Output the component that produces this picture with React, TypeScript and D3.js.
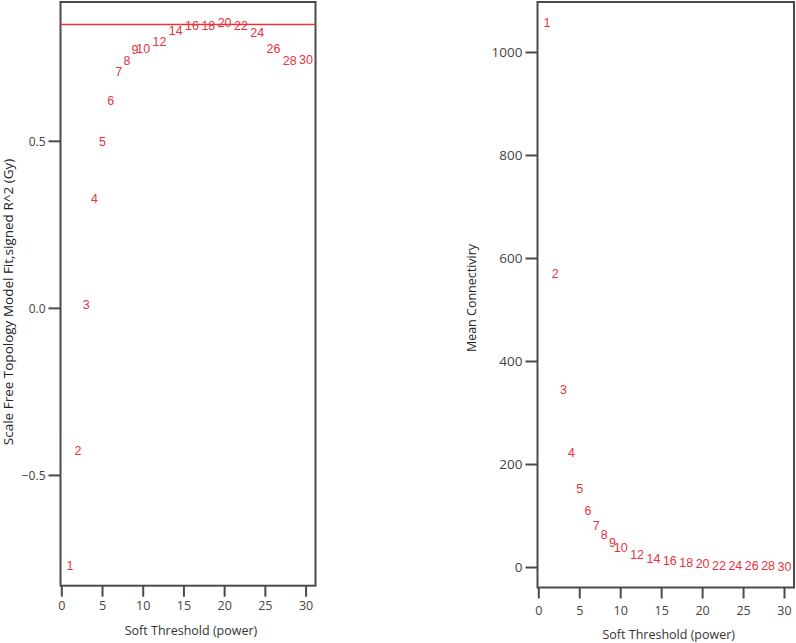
import React, { useRef, useEffect } from 'react';
import * as d3 from 'd3';

// soft threshold powers tested
const powers = [1, 2, 3, 4, 5, 6, 7, 8, 9, 10, 12, 14, 16, 18, 20, 22, 24, 26, 28, 30];
// signed R^2 of scale free fit
const fitValues = [-0.769, -0.426, 0.012, 0.328, 0.499, 0.622, 0.708, 0.741, 0.775, 0.778,
    0.797, 0.830, 0.847, 0.847, 0.854, 0.846, 0.824, 0.778, 0.741, 0.746];
// mean connectivity
const meanK = [1057, 571, 346, 224, 154, 111, 82, 63, 48.5, 39,
    25, 18, 13, 9.7, 7.2, 4.6, 3.9, 3.5, 3.3, 2.7];
const cutHeight = 0.85;

const xTicks = [0, 5, 10, 15, 20, 25, 30];
const fitTicks = [-0.5, 0.0, 0.5];
const kTicks = [0, 200, 400, 600, 800, 1000];

const RED = '#e8323c';
const AXIS = '#4a4a4a';
const LABEL_FONT = '"Open Sans", sans-serif';
const POINT_FONT = '"Liberation Sans", Arial, sans-serif';

function drawPanel(svg, opts) {
    const { xRange, yRange, yDomain, yValues, yTicks, yFormat, yTickSize, yTitle, yTitleX, yTitleY, yTitleSize,
        tickLabelY, xTitleY, hLine } = opts;
    const x = d3.scaleLinear().domain([-0.16, 31.16]).range(xRange);
    const y = d3.scaleLinear().domain(yDomain).range(yRange);

    const g = svg.append('g');

    // box
    g.append('rect')
        .attr('x', xRange[0]).attr('y', yRange[1])
        .attr('width', xRange[1] - xRange[0]).attr('height', yRange[0] - yRange[1])
        .attr('fill', 'none').attr('stroke', AXIS).attr('stroke-width', 2);

    // x axis ticks
    xTicks.forEach(t => {
        g.append('line')
            .attr('x1', x(t)).attr('x2', x(t))
            .attr('y1', yRange[0]).attr('y2', yRange[0] + 11)
            .attr('stroke', AXIS).attr('stroke-width', 2);
        g.append('text')
            .attr('x', x(t)).attr('y', tickLabelY)
            .attr('text-anchor', 'middle').attr('dy', '0.35em')
            .style('font-family', LABEL_FONT).style('font-size', '12.5px')
            .attr('fill', '#444')
            .text(t);
    });

    // y axis ticks
    yTicks.forEach(t => {
        g.append('line')
            .attr('x1', xRange[0] - 12).attr('x2', xRange[0])
            .attr('y1', y(t)).attr('y2', y(t))
            .attr('stroke', AXIS).attr('stroke-width', 2);
        g.append('text')
            .attr('x', xRange[0] - 15).attr('y', y(t))
            .attr('text-anchor', 'end').attr('dy', '0.35em')
            .style('font-family', LABEL_FONT).style('font-size', yTickSize)
            .attr('fill', '#444')
            .text(yFormat(t));
    });

    if (hLine !== undefined) {
        g.append('line')
            .attr('x1', xRange[0]).attr('x2', xRange[1])
            .attr('y1', y(hLine)).attr('y2', y(hLine))
            .attr('stroke', RED).attr('stroke-width', 1.5);
    }

    // point labels
    g.selectAll('.pt').data(powers).enter().append('text')
        .attr('x', d => x(d))
        .attr('y', (d, i) => y(yValues[i]))
        .attr('text-anchor', 'middle').attr('dy', '0.35em')
        .style('font-family', POINT_FONT).style('font-size', '12.5px')
        .attr('fill', RED)
        .text(d => d);

    // axis titles
    g.append('text')
        .attr('x', (xRange[0] + xRange[1]) / 2 + 3).attr('y', xTitleY)
        .attr('text-anchor', 'middle').attr('dy', '0.35em')
        .style('font-family', LABEL_FONT).style('font-size', '12.5px')
        .attr('fill', '#333')
        .text('Soft Threshold (power)');

    g.append('text')
        .attr('transform', 'translate(' + yTitleX + ',' + yTitleY + ') rotate(-90)')
        .attr('text-anchor', 'middle').attr('dy', '0.35em')
        .style('font-family', LABEL_FONT).style('font-size', yTitleSize)
        .attr('fill', '#222')
        .text(yTitle);
}

const App = () => {
    const ref = useRef(null);

    useEffect(() => {
        const svg = d3.select(ref.current);
        svg.selectAll('*').remove();

        drawPanel(svg, {
            xRange: [60.5, 315.5],
            yRange: [585.7, 2],
            yDomain: [-0.830, 0.917],
            yValues: fitValues,
            yTicks: fitTicks,
            yFormat: d3.format('.1f'),
            yTickSize: '12px',
            yTitle: 'Scale Free Topology Model Fit,signed R^2 (Gy)',
            yTitleX: 8,
            yTitleY: 302,
            yTitleSize: '13.5px',
            tickLabelY: 606,
            xTitleY: 631,
            hLine: cutHeight
        });

        drawPanel(svg, {
            xRange: [537.5, 794],
            yRange: [587.5, 2],
            yDomain: [-38.8, 1098],
            yValues: meanK,
            yTicks: kTicks,
            yFormat: d => String(d),
            yTickSize: '13.5px',
            yTitle: 'Mean Connectiviry',
            yTitleX: 472,
            yTitleY: 298,
            yTitleSize: '12.5px',
            tickLabelY: 611,
            xTitleY: 635
        });
    }, []);

    return (
        <svg ref={ref} width={796} height={643}
            style={{ position: 'absolute', left: 0, top: 0, background: '#fff' }}></svg>
    );
};

export default App;
